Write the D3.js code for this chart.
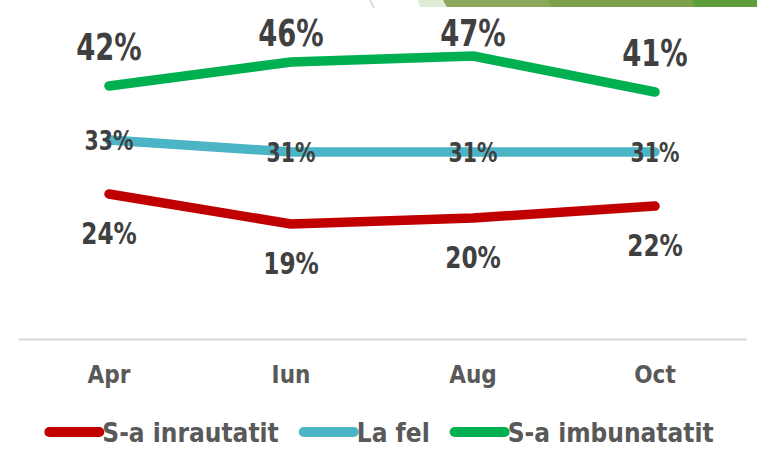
<!DOCTYPE html>
<html>
<head>
<meta charset="utf-8">
<script src="https://cdn.jsdelivr.net/npm/d3@7"></script>
<style>
  body { margin: 0; background: #fff; }
  svg { display: block; }
</style>
</head>
<body>
<svg id="chart"></svg>
<script>
// Data
const months = ["Apr", "Iun", "Aug", "Oct"];
const worse = [24, 19, 20, 22];
const same = [33, 31, 31, 31];
const better = [42, 46, 47, 41];
const seriesNames = ["S-a inrautatit", "La fel", "S-a imbunatatit"];

const width = 757;
const height = 466;
const font = "'DejaVu Sans Condensed', 'DejaVu Sans', sans-serif";

const series = [
    { name: seriesNames[0], values: worse, color: "#C00000", size: 30, sx: 0.86, pos: "below" },
    { name: seriesNames[1], values: same, color: "#4BB5C6", size: 27, sx: 0.84, pos: "center" },
    { name: seriesNames[2], values: better, color: "#00B050", size: 38, sx: 0.8, pos: "above" },
];

const svg = d3.select("#chart")
    .attr("width", width)
    .attr("height", height)
    .attr("viewBox", [0, 0, width, height]);

// slide decoration along the top edge
const deco = svg.append("g");
deco.append("path")
    .attr("d", "M370,0 Q372,4 374,8")
    .attr("fill", "none")
    .attr("stroke", "#c8c8c8")
    .attr("stroke-width", 1.2);
deco.append("path").attr("d", "M418,0H445L448,7H420Z").attr("fill", "#DDEBD7");
deco.append("path").attr("d", "M443,0H752L757,7H447Z").attr("fill", "#8AA75A");
deco.append("path").attr("d", "M548,0H757V7H551Z").attr("fill", "#7EA04A");
deco.append("path").attr("d", "M692,0H757V7H694Z").attr("fill", "#5E9E3C");

// Scales
const x = d3.scaleBand(months, [18, 746]);
const xc = m => x(m) + x.bandwidth() / 2;
const y = d3.scaleLinear([0, 50], [338, 38]);

// Category axis
svg.append("g")
    .attr("transform", `translate(0,339)`)
    .call(d3.axisBottom(x).tickSize(0).tickSizeOuter(0))
    .call(g => g.select(".domain").attr("stroke", "#D9D9D9").attr("stroke-width", 2))
    .call(g => g.selectAll(".tick text")
        .attr("y", 44)
        .attr("dy", null)
        .attr("fill", "#595959")
        .attr("font-family", font)
        .attr("font-weight", "bold")
        .attr("font-size", 24));

const line = d3.line()
    .x((d, i) => xc(months[i]))
    .y(d => y(d));

// Lines
svg.append("g")
    .selectAll("path")
    .data(series)
    .join("path")
    .attr("fill", "none")
    .attr("stroke", d => d.color)
    .attr("stroke-width", 9.5)
    .attr("stroke-linecap", "round")
    .attr("stroke-linejoin", "round")
    .attr("d", d => line(d.values));

// Data labels
function labelY(s, v) {
    if (s.pos === "above") return Math.max(y(v) - 26, 46);
    if (s.pos === "below") return y(v) + 50;
    return y(v) + 10;
}

series.forEach(s => {
    svg.append("g")
        .selectAll("text")
        .data(s.values)
        .join("text")
        .attr("transform", (v, i) => `translate(${xc(months[i])},${labelY(s, v)}) scale(${s.sx},1)`)
        .attr("text-anchor", "middle")
        .attr("font-family", font)
        .attr("font-weight", "bold")
        .attr("font-size", s.size)
        .attr("fill", "#404040")
        .text(v => v + "%");
});

// Legend
const legend = svg.append("g");
let lx = 0;
series.forEach((s, i) => {
    const item = legend.append("g").attr("transform", `translate(${lx},0)`);
    item.append("line")
        .attr("x1", 5).attr("x2", 55)
        .attr("y1", 0).attr("y2", 0)
        .attr("stroke", s.color)
        .attr("stroke-width", 10)
        .attr("stroke-linecap", "round");
    const t = item.append("text")
        .attr("x", 58)
        .attr("y", 10)
        .attr("font-family", font)
        .attr("font-weight", "bold")
        .attr("font-size", 26)
        .attr("fill", "#595959")
        .text(s.name);
    lx += 58 + t.node().getComputedTextLength() + 20;
});
const legendWidth = lx - 20;
legend.attr("transform", `translate(${384 - legendWidth / 2 - 5},432)`);
</script>
</body>
</html>
